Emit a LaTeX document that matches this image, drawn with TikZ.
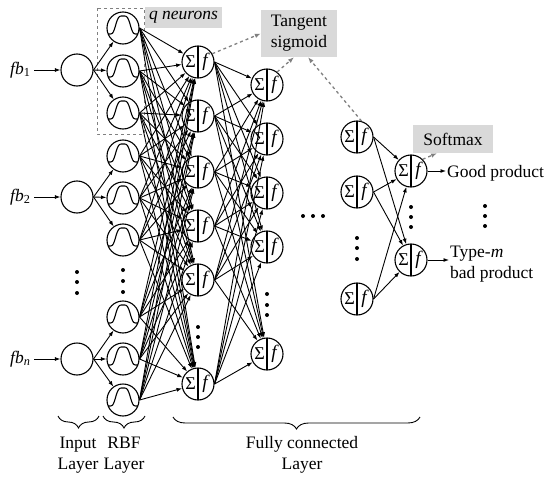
\documentclass[tikz,border=0pt]{standalone}
\usepackage{fontspec}
\setmainfont{Liberation Serif}
\usetikzlibrary{arrows.meta,decorations.pathreplacing}

\tikzset{
  unit/.style={circle, draw, line width=1.1pt, minimum size=32pt, inner sep=0pt},
  rbf/.style={unit, path picture={
      \draw[line width=1.1pt, shift={(path picture bounding box.center)}]
        plot[domain=-16:16, samples=61, smooth] (\x, {6-18*exp(-((\x*\x/64)^2))});}},
  sumf/.style={unit, path picture={
      \draw[line width=1.1pt] (path picture bounding box.north) -- (path picture bounding box.south);
      \node[font=\fontsize{18}{18}\selectfont, inner sep=0pt] at ([xshift=-7.5pt]path picture bounding box.center) {Σ};
      \node[font=\fontsize{19}{19}\selectfont\itshape, inner sep=0pt] at ([xshift=7pt]path picture bounding box.center) {f};}},
  conn/.style={line width=0.9pt, -{Latex[length=5.5pt, width=4pt]}},
  hint/.style={gray, dashed, line width=1.3pt, -{Latex[length=6pt, width=4.5pt]}},
  tag/.style={fill=gray!30, inner sep=2pt},
  layerbrace/.style={decorate, line width=0.9pt, decoration={brace, mirror, amplitude=#1}},
}

\begin{document}
\begin{tikzpicture}[x=1pt, y=-1pt, every node/.style={font=\fontsize{17.5}{21}\selectfont}]
    \useasboundingbox (0,0) rectangle (550,482);

    % input layer
    \node[unit] (in1) at (77,70) {};
    \node[unit] (in2) at (77,197) {};
    \node[unit] (in3) at (77,359) {};
    \node[anchor=east] (fb1) at (34,70) {\textit{fb}\textsubscript{1}};
    \node[anchor=east] (fb2) at (34,197) {\textit{fb}\textsubscript{2}};
    \node[anchor=east] (fb3) at (34,359) {\textit{fb}\textsubscript{\textit{n}}};
    \foreach \i in {1,2,3}
        \draw[conn] (fb\i.east) -- (in\i);
    \foreach \y in {272,282,293}
        \fill (77,\y) circle (2pt);

    % RBF layer
    \foreach \y [count=\i] in {28,71,113,156,198,240,317,359,400}
        \node[rbf] (r\i) at (123,\y) {};
    \foreach \y in {270,281,292}
        \fill (123,\y) circle (2pt);
    \draw[gray, dashed, line width=0.9pt] (97,8) rectangle (144,134);
    \node[tag, minimum width=77pt, minimum height=21pt, font=\fontsize{17.5}{21}\selectfont\itshape] (qn) at (183.5,17.5) {q neurons};

    \foreach \g in {1,2,3} {
        \pgfmathtruncatemacro\ra{3*\g-2}
        \pgfmathtruncatemacro\rb{3*\g-1}
        \pgfmathtruncatemacro\rc{3*\g}
        \draw[conn] (in\g.east) -- (r\ra);
        \draw[conn] (in\g.east) -- (r\rb);
        \draw[conn] (in\g.east) -- (r\rc);
    }

    % fully connected layers
    \foreach \y [count=\i] in {62,116,172,226,280,384}
        \node[sumf] (a\i) at (198,\y) {};
    \foreach \y in {327,337,347}
        \fill (198,\y) circle (2pt);
    \foreach \y [count=\i] in {85,139,193,247,354}
        \node[sumf] (b\i) at (267,\y) {};
    \foreach \y in {294,305,315}
        \fill (267,\y) circle (2pt);
    \foreach \x in {303,313,323}
        \fill (\x,216) circle (2pt);
    \foreach \y [count=\i] in {137,192,299}
        \node[sumf] (c\i) at (357,\y) {};
    \foreach \y in {238,248,259}
        \fill (357,\y) circle (2pt);

    \foreach \i in {1,...,9}
        \foreach \j in {1,...,6}
            \draw[conn] (r\i.east) -- (a\j);
    \foreach \i in {1,...,6}
        \foreach \j in {1,...,5}
            \draw[conn] (a\i.east) -- (b\j);

    % output layer
    \node[sumf] (o1) at (411,171) {};
    \node[sumf] (o2) at (411,260) {};
    \foreach \y in {207,217,227}
        \fill (411,\y) circle (2pt);
    \foreach \i in {1,2,3}
        \foreach \j in {1,2}
            \draw[conn] (c\i.east) -- (o\j);

    \node[anchor=west, inner sep=1pt] (good) at (446,173) {Good product};
    \node[anchor=west, align=left, inner sep=1pt] (bad) at (449,264) {Type-\textit{m}\\bad product};
    \draw[conn] (o1.east) -- (good.west |- o1);
    \draw[conn] (o2.east) -- (bad.west |- o2);
    \foreach \y in {206,216,226}
        \fill (485,\y) circle (2pt);

    % activation hints
    \node[tag, minimum width=76pt, minimum height=47pt, align=center] (tansig) at (299,33.5) {Tangent\\sigmoid};
    \node[tag, minimum width=80pt, minimum height=28pt] (softmax) at (453,139) {Softmax};
    \draw[hint] (a1.30) -- (tansig.west);
    \draw[hint] (b1.52) -- ([xshift=-5pt]tansig.south);
    \draw[hint] (c1.74) -- ([xshift=9pt]tansig.south);
    \draw[hint] (o1.45) -- ([xshift=-16pt]softmax.south);

    % layer names
    \draw[layerbrace=12pt] (58,416) -- (99,416);
    \draw[layerbrace=12pt] (103,416) -- (145,416);
    \draw[layerbrace=12pt] (173,417) -- (420,417);
    \node[align=center] (inname) at (78,455) {Input\\Layer};
    \node[align=center] (rbfname) at (124,455) {RBF\\Layer};
    \node[align=center] (fcname) at (302,455) {Fully connected\\Layer};
\end{tikzpicture}
\end{document}
